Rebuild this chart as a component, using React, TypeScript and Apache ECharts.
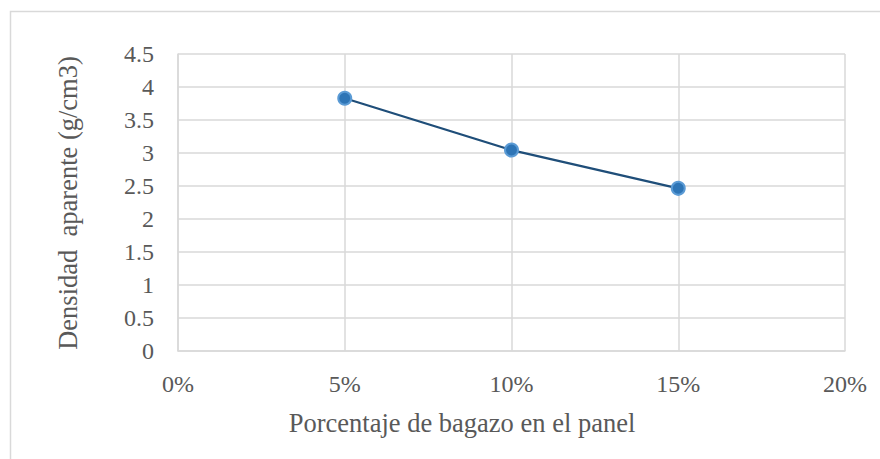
import React, { useEffect, useRef } from "react";
import * as echarts from "echarts";

// Bagasse share in the panel (fraction) and measured apparent density
const bagazo = [0.05, 0.10, 0.15];
const densidad = [3.83, 3.045, 2.465];

const xTitle = "Porcentaje de bagazo en el panel";
const yTitle = "Densidad  aparente (g/cm3)";

const FONT = "Liberation Serif";
const TEXT = "#595959";
const GRID = "#d9d9d9";

export default function App() {
  const ref = useRef<HTMLDivElement>(null);

  useEffect(() => {
    if (!ref.current) return;
    const chart = echarts.init(ref.current, null, { renderer: "svg" });
    chart.setOption({
      animation: false,
      backgroundColor: "#ffffff",
      textStyle: { fontFamily: FONT },
      grid: { left: 178, right: 35, top: 54, bottom: 108 },
      xAxis: {
        type: "value",
        min: 0,
        max: 0.2,
        interval: 0.05,
        axisLine: { show: true, lineStyle: { color: GRID, width: 1.5 } },
        axisTick: { show: false },
        splitLine: { show: true, lineStyle: { color: GRID, width: 1.5 } },
        axisLabel: {
          margin: 21,
          fontFamily: FONT,
          fontSize: 24,
          color: TEXT,
          formatter: (v: number) => `${Math.round(v * 100)}%`,
        },
      },
      yAxis: {
        type: "value",
        min: 0,
        max: 4.5,
        interval: 0.5,
        axisLine: { show: true, lineStyle: { color: GRID, width: 1.5 } },
        axisTick: { show: false },
        splitLine: { show: true, lineStyle: { color: GRID, width: 1.5 } },
        axisLabel: {
          margin: 24,
          fontFamily: FONT,
          fontSize: 24,
          color: TEXT,
          formatter: (v: number) => `${v}`,
        },
      },
      graphic: [
        {
          type: "polyline",
          shape: { points: [[10.5, 470], [10.5, 11.5], [890, 11.5]] },
          style: { stroke: "#d9d9d9", lineWidth: 1.5, fill: "none" },
          silent: true,
        },
        {
          type: "text",
          x: 462,
          y: 423,
          style: {
            text: xTitle,
            fontFamily: FONT,
            fontSize: 26.5,
            fill: TEXT,
            align: "center",
            verticalAlign: "middle",
          },
        },
        {
          type: "text",
          x: 68,
          y: 203,
          rotation: Math.PI / 2,
          style: {
            text: yTitle,
            fontFamily: FONT,
            fontSize: 26.5,
            fill: TEXT,
            align: "center",
            verticalAlign: "middle",
          },
        },
      ],
      series: [
        {
          type: "line",
          data: bagazo.map((b, i) => [b, densidad[i]]),
          symbol: "circle",
          symbolSize: 13,
          lineStyle: { color: "#1f4e79", width: 2.25 },
          itemStyle: { color: "#2e75b6", borderColor: "#5b9bd5", borderWidth: 2 },
        },
      ],
    });
    return () => chart.dispose();
  }, []);

  return <div ref={ref} style={{ width: 880, height: 459, position: "absolute", left: 0, top: 0 }} />;
}
